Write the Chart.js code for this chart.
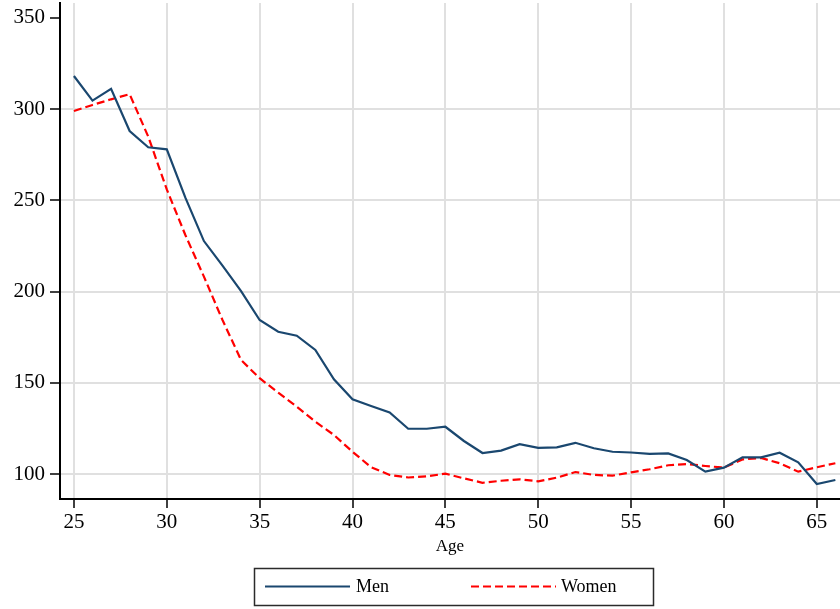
<!DOCTYPE html>
<html>
<head>
<meta charset="utf-8">
<script src="https://cdn.jsdelivr.net/npm/chart.js@4"></script>
<style>
  html, body { margin: 0; padding: 0; background: #ffffff; }
  canvas { display: block; }
</style>
</head>
<body>
<canvas id="chart" width="840" height="609"></canvas>
<script>
// Age of respondents (years)
const ages = [25, 26, 27, 28, 29, 30, 31, 32, 33, 34, 35, 36, 37, 38, 39, 40, 41, 42, 43, 44, 45,
              46, 47, 48, 49, 50, 51, 52, 53, 54, 55, 56, 57, 58, 59, 60, 61, 62, 63, 64, 65, 66];

const men = [318.2, 304.7, 311.1, 288.0, 279.1, 278.0, 251.5, 227.7, 214.2, 200.3, 184.4,
             178.0, 175.8, 168.0, 151.9, 141.0, 137.3, 133.8, 124.8, 124.8, 125.9,
             118.1, 111.5, 112.8, 116.4, 114.3, 114.6, 117.1, 114.1, 112.2, 111.8,
             111.0, 111.3, 107.7, 101.3, 103.5, 109.1, 109.1, 111.7, 106.4, 94.5, 96.7];

const women = [299.0, 302.3, 305.4, 308.2, 285.0, 256.0, 231.0, 208.2, 184.4, 162.5, 152.5,
               144.6, 136.9, 128.7, 121.4, 112.2, 103.7, 99.5, 98.1, 98.7, 100.2,
               97.6, 95.2, 96.3, 97.1, 96.0, 98.0, 101.1, 99.5, 99.1, 100.9,
               102.6, 104.8, 105.5, 104.4, 103.5, 108.0, 108.8, 105.9, 101.3, 103.7, 105.9];

const xTicks = [25, 30, 35, 40, 45, 50, 55, 60, 65];
const yTicks = [100, 150, 200, 250, 300, 350];

const seriesLabels = ['Men', 'Women'];
const axisTitle = 'Age';

const SERIF = '"Liberation Serif", "Times New Roman", serif';

// Keep the plot edges fixed: no extra room reserved for edge tick labels
function noEdgePadding(s) {
  s.paddingTop = 0;
  s.paddingBottom = 0;
  s.paddingLeft = 0;
  s.paddingRight = 0;
}

// Boxed legend underneath the plot, built from the dataset styles
const boxLegend = {
  id: 'boxLegend',
  afterDraw(chart) {
    const ctx = chart.ctx;
    ctx.save();
    ctx.strokeStyle = '#2b2b2b';
    ctx.lineWidth = 1.5;
    ctx.strokeRect(254.5, 568.5, 399, 37);
    const items = [
      { x0: 265, x1: 350, tx: 356 },
      { x0: 471, x1: 556, tx: 561 }
    ];
    const y = 586.5;
    chart.data.datasets.forEach((ds, i) => {
      const it = items[i];
      ctx.beginPath();
      ctx.setLineDash(ds.borderDash || []);
      ctx.strokeStyle = ds.borderColor;
      ctx.lineWidth = ds.borderWidth;
      ctx.moveTo(it.x0, y);
      ctx.lineTo(it.x1, y);
      ctx.stroke();
      ctx.setLineDash([]);
      ctx.fillStyle = '#000000';
      ctx.font = '18px ' + SERIF;
      ctx.textBaseline = 'middle';
      ctx.textAlign = 'left';
      ctx.fillText(ds.label, it.tx, y + 1);
    });
    ctx.restore();
  }
};

new Chart(document.getElementById('chart'), {
  type: 'line',
  data: {
    datasets: [
      {
        label: seriesLabels[0],
        data: ages.map((a, i) => ({ x: a, y: men[i] })),
        borderColor: '#1a476f',
        borderWidth: 2.2,
        pointRadius: 0,
        tension: 0,
        fill: false
      },
      {
        label: seriesLabels[1],
        data: ages.map((a, i) => ({ x: a, y: women[i] })),
        borderColor: '#ff0000',
        borderWidth: 2.2,
        borderDash: [8, 4],
        pointRadius: 0,
        tension: 0,
        fill: false
      }
    ]
  },
  options: {
    responsive: false,
    animation: false,
    devicePixelRatio: 1,
    layout: { padding: { left: 0, right: 0, top: 3, bottom: 54 } },
    plugins: {
      legend: { display: false },
      tooltip: { enabled: false }
    },
    scales: {
      x: {
        type: 'linear',
        min: 24.25,
        max: 66.25,
        afterBuildTicks: s => { s.ticks = xTicks.map(v => ({ value: v })); },
        afterFit: s => { s.height = 56; noEdgePadding(s); },
        ticks: {
          color: '#000000',
          font: { family: SERIF, size: 21 },
          padding: 2,
          maxRotation: 0,
          autoSkip: false
        },
        grid: {
          color: '#e0e0e0',
          lineWidth: 2,
          tickColor: '#000000',
          tickLength: 9,
          tickWidth: 1.5
        },
        border: { display: true, color: '#000000', width: 2 },
        title: {
          display: true,
          text: axisTitle,
          color: '#000000',
          font: { family: SERIF, size: 17, lineHeight: 1 },
          padding: { top: 0, bottom: 0 }
        }
      },
      y: {
        type: 'linear',
        min: 86.3,
        max: 358.2,
        afterBuildTicks: s => { s.ticks = yTicks.map(v => ({ value: v })); },
        afterFit: s => { s.width = 60; noEdgePadding(s); },
        ticks: {
          color: '#000000',
          font: { family: SERIF, size: 21 },
          padding: 5
        },
        grid: {
          color: ctx => (ctx.tick && ctx.tick.value === 350) ? 'rgba(0,0,0,0)' : '#e0e0e0',
          lineWidth: 2,
          tickColor: '#000000',
          tickLength: 10,
          tickWidth: 1.5
        },
        border: { display: true, color: '#000000', width: 2 }
      }
    }
  },
  plugins: [boxLegend]
});
</script>
</body>
</html>
